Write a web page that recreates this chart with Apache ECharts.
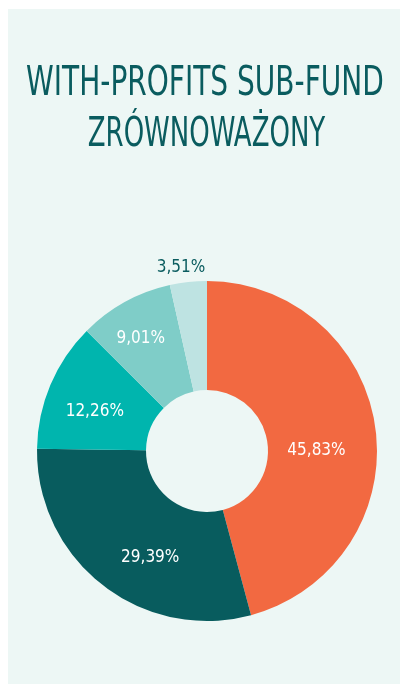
<!DOCTYPE html>
<html>
<head>
<meta charset="utf-8">
<script src="https://cdn.jsdelivr.net/npm/echarts@6/dist/echarts.min.js"></script>
<style>
  html, body { margin: 0; padding: 0; background: #ffffff; }
  #chart { width: 400px; height: 684px; }
</style>
</head>
<body>
<div id="chart"></div>
<script>
// data
const categories = ['A', 'B', 'C', 'D', 'E'];
const shares = [45.83, 29.39, 12.26, 9.01, 3.51];
const sliceColors = ['#F26941', '#085C5E', '#00B5AE', '#7FCDC8', '#BEE3E2'];
const labelColors = ['#ffffff', '#ffffff', '#ffffff', '#ffffff', '#0A5C5F'];
// nudges so labels sit where the original puts them
const labelOffsets = [[-8, 15], [16, 13], [-3, 7], [-9, -9], [-13, -66]];
const titleLines = ['WITH-PROFITS SUB-FUND', 'ZRÓWNOWAŻONY'];

const bg = '#EDF7F5';
const dark = '#0A5C5F';
const condensed = '"DejaVu Sans Condensed", "Liberation Sans Narrow", sans-serif';

const chart = echarts.init(document.getElementById('chart'), null, { renderer: 'canvas' });

const pieData = categories.map(function (name, i) {
  return {
    name: name,
    value: shares[i],
    itemStyle: { color: sliceColors[i] },
    label: { color: labelColors[i], offset: labelOffsets[i] }
  };
});

const option = {
  backgroundColor: '#ffffff',
  animation: false,
  graphic: [
    {
      type: 'rect', z: -10, silent: true,
      shape: { x: 8, y: 9, width: 392, height: 675 },
      style: { fill: bg }
    },
    {
      type: 'text', x: 205, y: 84, scaleX: 0.76, z: 100,
      style: {
        text: titleLines[0], fill: dark,
        font: '41px ' + condensed,
        textAlign: 'center', textVerticalAlign: 'middle'
      }
    },
    {
      type: 'text', x: 206.5, y: 135, scaleX: 0.705, z: 100,
      style: {
        text: titleLines[1], fill: dark,
        font: '41px ' + condensed,
        textAlign: 'center', textVerticalAlign: 'middle'
      }
    }
  ],
  series: [{
    type: 'pie',
    center: [207, 451],
    radius: [61, 170],
    startAngle: 90,
    clockwise: true,
    avoidLabelOverlap: false,
    label: {
      show: true,
      position: 'inside',
      fontFamily: condensed,
      fontSize: 17,
      formatter: function (p) {
        return p.value.toFixed(2).replace('.', ',') + '%';
      }
    },
    labelLine: { show: false },
    emphasis: { disabled: true },
    data: pieData
  }]
};

chart.setOption(option);
</script>
</body>
</html>
